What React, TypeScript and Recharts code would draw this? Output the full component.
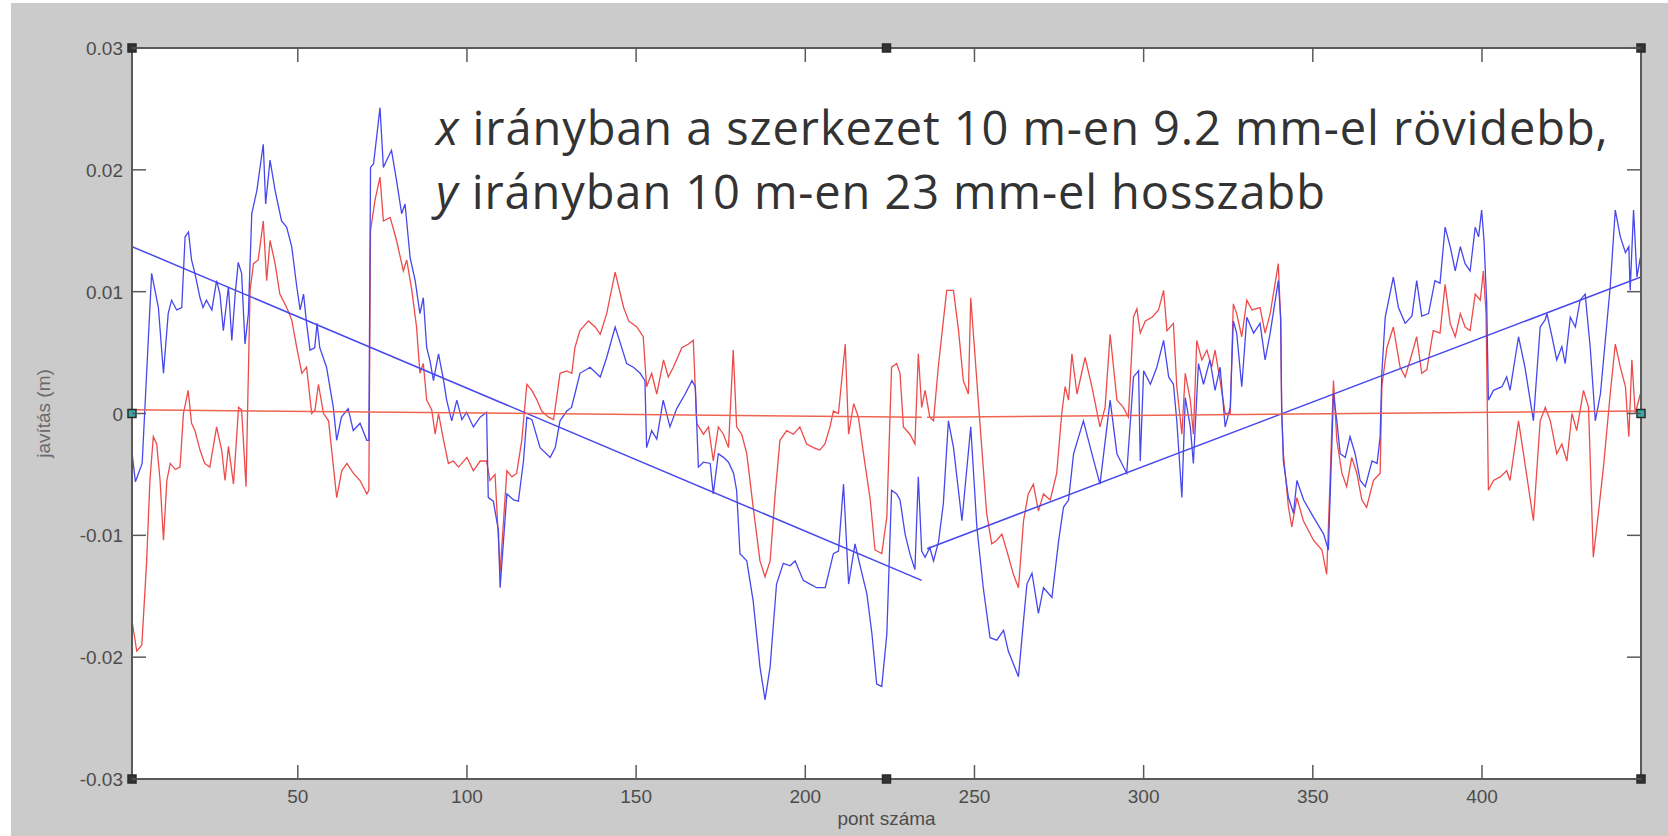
import React from "react";
import { LineChart, Line, XAxis, YAxis, ReferenceDot } from "recharts";

type Pt = [number, number];

// pont száma -> javítás (m)
const blueSeries: Pt[] = [
  [1, -0.0032], [2, -0.0056], [4, -0.0041], [5.7, 0.0054], [6.8, 0.0115], [8.8, 0.0087], [10.3, 0.0033],
  [11.7, 0.0082], [12.7, 0.0093], [14.2, 0.0085], [15.7, 0.0087], [16.7, 0.0145], [17.7, 0.0149], [18.6, 0.0126],
  [19.6, 0.0115], [21.1, 0.0095], [22, 0.0087], [23, 0.0093], [24.6, 0.0085], [26, 0.0109], [27, 0.0098],
  [28, 0.0068], [29.5, 0.0104], [30.5, 0.006], [31.5, 0.0098], [32.4, 0.0124], [33.4, 0.0115], [34.4, 0.0057],
  [35.4, 0.0082], [36.4, 0.0164], [37.9, 0.0183], [39.8, 0.0221], [40.5, 0.0172], [41.8, 0.0208], [43.3, 0.0183],
  [45.2, 0.0158], [46.7, 0.0153], [48.2, 0.0137], [49.7, 0.0104], [50.7, 0.0085], [51.7, 0.0098], [52.6, 0.0074],
  [53.6, 0.0052], [55, 0.0054], [55.7, 0.0074], [56.5, 0.0054], [58.5, 0.0038], [60.5, 0.0005], [61.5, -0.0022],
  [62.9, -0.0003], [64.9, 0.0004], [66.4, -0.0014], [68.4, -0.0008], [70.4, -0.0022], [71, -0.0022], [71.5, 0.0202],
  [72.4, 0.0205], [74.3, 0.0251], [75.3, 0.0202], [76.3, 0.0208], [77.7, 0.0216], [79.2, 0.0191], [80.7, 0.0164],
  [81.7, 0.0172], [83.2, 0.0128], [84.7, 0.0109], [86.1, 0.0082], [87.1, 0.0095], [88.1, 0.0054], [89.1, 0.0043],
  [90.1, 0.0027], [91.6, 0.0049], [93.1, 0.0027], [94, 0.0011], [95.5, -0.0006], [97, 0.0011], [98.5, -0.0005],
  [99.9, 0.0001], [101.9, -0.0011], [103.9, -0.0003], [105.8, 0.0001], [106.3, -0.0069], [107.8, -0.0072],
  [109.3, -0.0096], [109.8, -0.0143], [111.8, -0.0066], [113.8, -0.0071], [115.2, -0.0072], [116.7, -0.0039],
  [117.7, -0.0003], [119.2, -0.0005], [121.6, -0.0028], [124.6, -0.0036], [126.1, -0.0028], [127.5, -0.0006],
  [129.5, 0.0002], [130.9, 0.0005], [131.9, 0.0016], [133.4, 0.0033], [136.4, 0.0038], [139.4, 0.003],
  [141.3, 0.0046], [143.8, 0.0071], [145.3, 0.0058], [147.2, 0.0041], [149.2, 0.0038], [151.2, 0.0033],
  [152.6, 0.0027], [153.1, -0.0028], [154.6, -0.0014], [156.1, -0.0021], [158, 0.0011], [160, -0.0011],
  [162, 0.0004], [164.5, 0.0016], [166.5, 0.0027], [167.5, 0.0022], [168.4, -0.0044], [169.9, -0.004],
  [171.9, -0.0041], [172.8, -0.0066], [174.3, -0.0033], [175.8, -0.0036], [177.3, -0.004], [178.8, -0.0049],
  [179.7, -0.0063], [180.7, -0.0115], [182.7, -0.0121], [184.6, -0.0154], [186.6, -0.0208], [188.1, -0.0235],
  [189.6, -0.0208], [191.5, -0.014], [193.5, -0.0123], [195.5, -0.0125], [197, -0.0121], [199.4, -0.0137],
  [201.4, -0.014], [203.4, -0.0143], [205.9, -0.0143], [208.3, -0.0115], [209.8, -0.0113], [211.3, -0.0058],
  [212.8, -0.014], [214.7, -0.0107], [216.2, -0.0125], [218.2, -0.0148], [219.7, -0.0181], [221.1, -0.0222],
  [222.6, -0.0224], [224.1, -0.0181], [225.5, -0.0063], [227, -0.0066], [228, -0.0071], [229.5, -0.0099],
  [230.9, -0.0115], [232.4, -0.0128], [233.4, -0.0052], [234.4, -0.0113], [235.4, -0.0118], [236.8, -0.011],
  [237.9, -0.0121], [239.4, -0.0105], [240.8, -0.0074], [242.3, -0.0006], [243.8, -0.0028], [246.3, -0.0088],
  [248.9, -0.0011], [250.7, -0.0093], [252.6, -0.0143], [254.6, -0.0184], [256.6, -0.0186], [258.6, -0.0178],
  [260, -0.0195], [263, -0.0216], [264.5, -0.017], [265.5, -0.014], [267, -0.0131], [268.9, -0.0164],
  [270.4, -0.0143], [272.9, -0.0151], [274.9, -0.0104], [276.3, -0.0077], [277.8, -0.0071], [279.3, -0.0033],
  [280.8, -0.0019], [282.2, -0.0006], [284.7, -0.0033], [287.1, -0.0058], [290.1, 0.0011], [292.1, -0.0033],
  [295, -0.0049], [297, 0.003], [298.5, 0.0035], [299, -0.0039], [300, 0.0035], [302, 0.0024], [303.9, 0.0038],
  [305.9, 0.006], [307.4, 0.003], [308.8, 0.0024], [309.8, -0.0006], [311.3, -0.0069], [312.3, 0.0013],
  [313.8, -0.0011], [314.7, -0.0041], [316.2, 0.0041], [317.7, 0.0024], [319.6, 0.0044], [321.1, 0.0019],
  [322.6, 0.0038], [324.1, -0.0011], [325.6, 0.0005], [326.5, 0.0076], [327.5, 0.0066], [329, 0.0022],
  [330.5, 0.0079], [332.5, 0.0066], [334.4, 0.0074], [335.9, 0.0044], [337.4, 0.0066], [339.8, 0.0109],
  [340.5, 0.0079], [340.8, 0.0005], [341.3, -0.0039], [342.8, -0.0069], [344.3, -0.0082], [345.3, -0.0055],
  [347.3, -0.0071], [350.2, -0.0085], [353.2, -0.0099], [354.6, -0.0112], [355.6, -0.0028], [356.1, 0.0016],
  [357.1, -0.0006], [358.1, -0.0033], [359.6, -0.0036], [361, -0.0019], [362.5, -0.0033], [364, -0.0055],
  [365.5, -0.006], [367.5, -0.0039], [369, -0.0041], [369.9, -0.0019], [370.4, 0.0033], [371.4, 0.0079],
  [373.8, 0.0112], [375.3, 0.0087], [377.3, 0.0074], [379.3, 0.008], [380.7, 0.0109], [382.2, 0.008],
  [384.2, 0.0082], [386.1, 0.0109], [387.6, 0.0107], [389.1, 0.0153], [390.6, 0.0137], [392.1, 0.0117],
  [393.6, 0.0137], [395, 0.0123], [396.5, 0.0117], [398, 0.0153], [399, 0.0145], [399.9, 0.0167],
  [400.6, 0.0142], [401.4, 0.009], [401.9, 0.0011], [403.4, 0.0019], [405.9, 0.0022], [407.3, 0.003],
  [408.3, 0.0019], [410.8, 0.0063], [412.7, 0.0038], [415.2, -0.0006], [417.2, 0.0071], [418.7, 0.0077],
  [419.2, 0.0082], [420.7, 0.0063], [422.1, 0.0044], [423.6, 0.0055], [424.6, 0.0041], [426.1, 0.0079],
  [427.6, 0.0071], [429, 0.0093], [430.5, 0.0098], [432, 0.0054], [433.5, -0.0006], [435, 0.0016],
  [437.9, 0.0104], [439.4, 0.0167], [440.9, 0.0145], [442.4, 0.0132], [443.4, 0.0137], [443.8, 0.0101],
  [444.8, 0.0167], [445.8, 0.0112], [446.8, 0.0128],
];

const redSeries: Pt[] = [
  [1, -0.017], [2.4, -0.0195], [3.9, -0.019], [5.3, -0.0123], [6.3, -0.0055], [7.3, -0.0019], [8.3, -0.0025],
  [9.3, -0.0055], [10.3, -0.0104], [11.3, -0.0055], [12.3, -0.0041], [13.8, -0.0046], [15.2, -0.0044], [16.2, 0],
  [17.6, 0.0019], [18.6, -0.0008], [19.6, -0.0014], [21.1, -0.003], [22.5, -0.0041], [24, -0.0044], [26, -0.0011],
  [27.5, -0.003], [28.5, -0.0055], [29.5, -0.0027], [31, -0.0058], [32.5, 0.0005], [33.4, 0.0003], [34.7, -0.006],
  [35.9, 0.0101], [36.9, 0.0123], [38.3, 0.0126], [39.8, 0.0158], [40.8, 0.0109], [41.8, 0.0142], [43.3, 0.0123],
  [44.7, 0.0098], [46.7, 0.0087], [48.2, 0.0077], [49.7, 0.0054], [51.2, 0.0033], [52.6, 0.0038], [54.1, 0],
  [55.1, 0.0003], [56.1, 0.0024], [57.6, 0], [59.1, -0.0006], [61.5, -0.0069], [63, -0.0047], [64.5, -0.0041],
  [66.4, -0.0049], [68.4, -0.0055], [70.4, -0.0066], [71, -0.0063], [71.5, 0.015], [72.8, 0.0175], [74.3, 0.0194],
  [75.3, 0.0158], [77.3, 0.0161], [79.2, 0.0142], [81.2, 0.0117], [82.2, 0.0126], [83.7, 0.0101], [85.1, 0.0071],
  [86.1, 0.0033], [87.1, 0.0041], [88.1, 0.0011], [89.6, 0.0003], [90.6, -0.0017], [91.6, 0], [93.1, -0.0022],
  [94.5, -0.0041], [96, -0.0039], [97.5, -0.0044], [100, -0.0036], [101.9, -0.0047], [103.9, -0.0039],
  [105.8, -0.0039], [106.8, -0.0055], [108.3, -0.005], [109.8, -0.013], [111.8, -0.0047], [113.3, -0.0052],
  [114.7, -0.0049], [116.2, -0.0022], [117.7, 0.0024], [119.2, 0.0019], [120.7, 0.0011], [122.1, 0.0002],
  [124.1, -0.0003], [125.6, -0.0005], [127.5, 0.0033], [129.5, 0.0035], [131, 0.0033], [131.9, 0.0054],
  [133.4, 0.0068], [135.9, 0.0076], [137.9, 0.0071], [139.4, 0.0065], [141.3, 0.0082], [143.8, 0.0116],
  [146.3, 0.0087], [147.8, 0.0076], [150.2, 0.0071], [152.1, 0.0063], [153.1, 0.0022], [154.6, 0.0033],
  [156.1, 0.0016], [158.1, 0.0044], [159.5, 0.003], [161, 0.0038], [163.5, 0.0054], [165.5, 0.0057],
  [166.9, 0.006], [167.9, -0.0008], [169.9, -0.0017], [171.4, -0.0011], [172.8, -0.0039], [174.3, -0.0011],
  [175.8, -0.0017], [177.3, -0.0028], [178.7, 0.0052], [179.7, -0.0011], [181.2, -0.0017], [182.7, -0.0033],
  [184.6, -0.0077], [186.6, -0.0121], [188.1, -0.0134], [189.6, -0.0121], [191.1, -0.0066], [192.5, -0.0022],
  [194.5, -0.0014], [196.5, -0.0017], [198.4, -0.0011], [200.4, -0.0025], [202.4, -0.0028], [204.3, -0.003],
  [205.8, -0.0025], [207.3, -0.0011], [208.3, 0.0002], [209.8, 0], [211.8, 0.0057], [212.8, -0.0017],
  [214.3, 0.0008], [215.7, -0.0003], [217.2, -0.0033], [219.2, -0.0071], [220.6, -0.0112], [222.6, -0.0115],
  [224.1, -0.0085], [225.5, 0.0038], [227, 0.0041], [228, 0.0033], [229, -0.0011], [230.9, -0.0017],
  [232.4, -0.0025], [233.4, 0.0049], [234.4, 0.0005], [235.4, 0.0019], [236.8, -0.0003], [237.9, -0.0006],
  [239.3, 0.0038], [240.8, 0.0076], [241.8, 0.0101], [243.8, 0.0101], [245.3, 0.0068], [246.7, 0.0027],
  [248.2, 0.0016], [248.9, 0.0095], [251.7, -0.0011], [253.6, -0.0082], [255.1, -0.0107], [256.6, -0.0104],
  [258.1, -0.0099], [259.5, -0.0112], [261.5, -0.0132], [263, -0.0143], [264.5, -0.0088], [265.9, -0.0066],
  [267.4, -0.0058], [268.9, -0.008], [270.4, -0.0066], [272.4, -0.0071], [274.3, -0.0049], [275.8, 0],
  [276.8, 0.0022], [277.8, 0.0011], [278.8, 0.0049], [280.3, 0.0016], [282.7, 0.0046], [284.7, 0.0022],
  [287.1, -0.0011], [288.6, 0.0005], [290.1, 0.0065], [292.1, 0.0011], [294, 0.0005], [295.5, -0.0003],
  [297, 0.0079], [298, 0.0086], [299, 0.0066], [300.5, 0.0076], [302.5, 0.0079], [304.4, 0.0085],
  [305.9, 0.0101], [306.9, 0.0068], [308.8, 0.0074], [309.8, 0.0022], [311.3, -0.0017], [312.3, 0.0033],
  [313.8, 0.0011], [314.7, -0.0017], [315.7, 0.006], [317.2, 0.0044], [318.7, 0.0052], [320.1, 0.0038],
  [321.1, 0.0052], [322.6, 0.0027], [324.1, 0], [325.6, 0], [326.5, 0.009], [327.5, 0.0082], [329, 0.0063],
  [330.5, 0.0093], [332, 0.0085], [334.4, 0.0087], [335.9, 0.0066], [337.4, 0.0082], [339.8, 0.0123],
  [340.5, 0.0076], [340.8, 0], [341.3, -0.0033], [342.8, -0.0077], [343.8, -0.0093], [345.3, -0.0069],
  [347.2, -0.0088], [350.2, -0.0104], [352.7, -0.0112], [354.1, -0.0132], [355.1, -0.0055], [356.1, 0.0027],
  [357.1, -0.0022], [358.6, -0.0049], [360, -0.006], [361.5, -0.0036], [363, -0.0049], [364.5, -0.0071],
  [365.9, -0.0077], [367.9, -0.0055], [369.9, -0.0049], [370.4, 0.0022], [371.9, 0.0054], [373.8, 0.0071],
  [375.8, 0.0038], [377.3, 0.003], [379.3, 0.0049], [380.7, 0.0063], [382.2, 0.0033], [383.7, 0.0036],
  [385.6, 0.0068], [387.6, 0.0066], [389.1, 0.0106], [390.6, 0.0074], [392.1, 0.0063], [393.6, 0.0082],
  [395, 0.0071], [396.5, 0.0068], [398, 0.0098], [399.5, 0.0093], [400.4, 0.0117], [401.2, 0.0082],
  [401.9, -0.0063], [403.4, -0.0055], [405.4, -0.0052], [407.3, -0.0047], [408.3, -0.0055], [410.8, -0.0006],
  [412.7, -0.0041], [415.2, -0.0088], [417.2, -0.0006], [418.7, 0.0005], [420.2, -0.0006], [422.1, -0.0033],
  [423.6, -0.0025], [425.1, -0.0039], [426.6, 0], [428, -0.0014], [430, 0.0019], [431.5, 0.0005],
  [432.9, -0.0118], [434.4, -0.0082], [435.9, -0.0044], [437.9, 0.0016], [439.4, 0.0057], [440.9, 0.0038],
  [442.4, 0.0022], [443.4, -0.0019], [444.3, 0.0044], [445.3, 0], [446.8, 0.0016],
];

// fitted lines, one per half of the structure
const blueFitLeft: Pt[] = [[1, 0.0137], [234.4, -0.0137]];
const blueFitRight: Pt[] = [[236, -0.0111], [447, 0.0112]];
const redFitLeft: Pt[] = [[1, 0.0003], [234.4, -0.0003]];
const redFitRight: Pt[] = [[236, -0.0003], [447, 0.0002]];

const xTicks = [50, 100, 150, 200, 250, 300, 350, 400];
const yTicks = [-0.03, -0.02, -0.01, 0, 0.01, 0.02, 0.03];
const X_DOMAIN: [number, number] = [1, 447];
const Y_DOMAIN: [number, number] = [-0.03, 0.03];

// edit-mode handles round the axes box
const darkHandles: Pt[] = [[1, 0.03], [224, 0.03], [447, 0.03], [1, -0.03], [224, -0.03], [447, -0.03]];
const sideHandles: Pt[] = [[1, 0], [447, 0]];

const BLUE = "#4747ee";
const RED = "#ee4b4b";
const RED_FIT = "#ef6450";
const AXIS = "#5a5a5a";
const TICK_TEXT = "#4d4d4d";
const TICK_LEN = 14;
const GAP = 6;
const tickFont = { fontFamily: "'Liberation Sans', Arial, sans-serif", fontSize: 19 };

const rows = (pts: Pt[]) => pts.map(([x, v]) => ({ x, v }));

const BottomTick = (props: any) => {
  const { x, y, payload } = props;
  const base = y - GAP;
  return (
    <g>
      <line x1={x} y1={base} x2={x} y2={base - TICK_LEN} stroke={AXIS} strokeWidth={1.5} />
      <text x={x} y={base + 24} textAnchor="middle" fill={TICK_TEXT} {...tickFont}>
        {payload.value}
      </text>
    </g>
  );
};

const TopTick = (props: any) => {
  const { x, y } = props;
  const base = y + GAP;
  return <line x1={x} y1={base} x2={x} y2={base + TICK_LEN} stroke={AXIS} strokeWidth={1.5} />;
};

const LeftTick = (props: any) => {
  const { x, y, payload } = props;
  const base = x + GAP;
  return (
    <g>
      <line x1={base} y1={y} x2={base + TICK_LEN} y2={y} stroke={AXIS} strokeWidth={1.5} />
      <text x={base - 9} y={y + 7} textAnchor="end" fill={TICK_TEXT} {...tickFont}>
        {String(payload.value)}
      </text>
    </g>
  );
};

const RightTick = (props: any) => {
  const { x, y } = props;
  const base = x - GAP;
  return <line x1={base} y1={y} x2={base - TICK_LEN} y2={y} stroke={AXIS} strokeWidth={1.5} />;
};

const handleShape = (fill: string) => (props: any) => (
  <rect x={props.cx - 4} y={props.cy - 4} width={8} height={8} fill={fill} stroke="#2a2a2a" strokeWidth={1.5} />
);

const series = [
  { key: "red", data: redSeries, color: RED, width: 1.3 },
  { key: "blue", data: blueSeries, color: BLUE, width: 1.3 },
  { key: "blueFitL", data: blueFitLeft, color: BLUE, width: 1.5 },
  { key: "blueFitR", data: blueFitRight, color: BLUE, width: 1.5 },
  { key: "redFitL", data: redFitLeft, color: RED_FIT, width: 1.5 },
  { key: "redFitR", data: redFitRight, color: RED_FIT, width: 1.5 },
];

export default function App() {
  return (
    <div style={{ position: "absolute", left: 0, top: 0, width: 1668, height: 836, background: "#ffffff", overflow: "hidden" }}>
      <div style={{ position: "absolute", left: 11, top: 3, right: 0, bottom: 0, background: "#cbcbcb" }} />
      <div style={{ position: "absolute", left: 0, top: 0 }}>
        <LineChart width={1668} height={836} margin={{ top: 38, right: 17, bottom: 0, left: 10 }}>
          <rect x={132} y={48} width={1509} height={731} fill="#ffffff" />
          <XAxis
            dataKey="x"
            type="number"
            domain={X_DOMAIN}
            ticks={xTicks}
            allowDataOverflow
            height={57}
            stroke={AXIS}
            axisLine={{ stroke: AXIS, strokeWidth: 2 }}
            tickLine={false}
            tickSize={0}
            tickMargin={GAP}
            tick={<BottomTick />}
            label={{
              value: "pont száma",
              position: "insideBottom",
              offset: 11,
              style: { fontFamily: "'Liberation Sans', Arial, sans-serif", fontSize: 19, fill: TICK_TEXT },
            }}
          />
          <XAxis
            xAxisId="top"
            orientation="top"
            dataKey="x"
            type="number"
            domain={X_DOMAIN}
            ticks={xTicks}
            allowDataOverflow
            height={10}
            axisLine={{ stroke: AXIS, strokeWidth: 2 }}
            tickLine={false}
            tickSize={0}
            tickMargin={GAP}
            tick={<TopTick />}
          />
          <YAxis
            type="number"
            domain={Y_DOMAIN}
            ticks={yTicks}
            allowDataOverflow
            width={122}
            axisLine={{ stroke: AXIS, strokeWidth: 2 }}
            tickLine={false}
            tickSize={0}
            tickMargin={GAP}
            tick={<LeftTick />}
            label={{
              value: "javítás (m)",
              angle: -90,
              position: "insideLeft",
              offset: 33,
              style: { textAnchor: "middle", fontFamily: "'Liberation Sans', Arial, sans-serif", fontSize: 19, fill: "#6a6a6a" },
            }}
          />
          <YAxis
            yAxisId="right"
            orientation="right"
            type="number"
            domain={Y_DOMAIN}
            ticks={yTicks}
            allowDataOverflow
            width={10}
            axisLine={{ stroke: AXIS, strokeWidth: 2 }}
            tickLine={false}
            tickSize={0}
            tickMargin={GAP}
            tick={<RightTick />}
          />
          {series.map((s) => (
            <Line
              key={s.key}
              data={rows(s.data)}
              dataKey="v"
              type="linear"
              stroke={s.color}
              strokeWidth={s.width}
              dot={false}
              activeDot={false}
              isAnimationActive={false}
            />
          ))}
          {darkHandles.map(([x, y]) => (
            <ReferenceDot key={`d${x}${y}`} x={x} y={y} r={4} shape={handleShape("#333333")} />
          ))}
          {sideHandles.map(([x, y]) => (
            <ReferenceDot key={`s${x}${y}`} x={x} y={y} r={4} shape={handleShape("#3aa8a8")} />
          ))}
        </LineChart>
      </div>
      <div
        style={{
          position: "absolute",
          left: 436,
          top: 95,
          fontFamily: "'Open Sans', sans-serif",
          fontSize: 47,
          lineHeight: "64px",
          letterSpacing: 0.9,
          color: "#333333",
          whiteSpace: "nowrap",
        }}
      >
        <div>
          <i>x</i> irányban a szerkezet 10 m-en 9.2 mm-el rövidebb,
        </div>
        <div>
          <i>y</i> irányban 10 m-en 23 mm-el hosszabb
        </div>
      </div>
    </div>
  );
}
